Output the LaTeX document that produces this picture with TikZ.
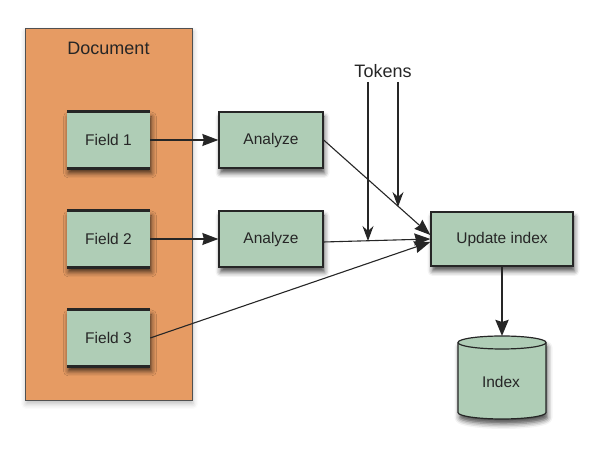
\documentclass[tikz,border=0pt]{standalone}
\usepackage{fontspec}
\setmainfont{Liberation Sans}
\usetikzlibrary{arrows.meta,shadows.blur,calc}
\definecolor{docorange}{HTML}{E69B63}
\definecolor{boxgreen}{HTML}{AFCDB6}
\definecolor{edgec}{HTML}{262626}
\tikzset{
 lbl/.style={font=\fontsize{15.5}{18}\selectfont, text=edgec},
 bigl/.style={font=\fontsize{18}{21}\selectfont, text=edgec},
 shad/.style={blur shadow={shadow xshift=1.5pt, shadow yshift=-5pt, shadow blur radius=5pt, shadow opacity=70}},
 fieldbox/.style={fill=boxgreen, minimum width=83pt, minimum height=56pt, inner sep=0pt, lbl, shad},
 procbox/.style={fill=boxgreen, draw=edgec, line width=1.3pt, minimum width=104pt, minimum height=56pt, inner sep=0pt, lbl, shad},
 conn/.style={draw=edgec, line width=1.1pt, -{Stealth[length=16pt,width=12pt,inset=1.5pt]}},
 tokconn/.style={draw=edgec, line width=1.1pt, -{Stealth[length=15pt,width=11pt,inset=5pt]}},
 thickconn/.style={draw=edgec, line width=2.4pt, -{Stealth[length=16pt,width=13pt,inset=2pt]}},
 fieldedge/.style={draw=edgec, line width=2.8pt},
}
\begin{document}
\begin{tikzpicture}[x=1pt,y=1pt]
\useasboundingbox (0,0) rectangle (590,468);
% Document container
\node[fill=docorange, draw=edgec!80, line width=0.8pt, minimum width=167pt, minimum height=372pt, inner sep=0pt,
      blur shadow={shadow xshift=1pt, shadow yshift=-4pt, shadow blur radius=5pt, shadow opacity=25}] (doc) at (108.5,254) {};
\node[bigl] (doclbl) at (108.5,420) {Document};
% Fields
\foreach \n/\y in {1/328,2/229,3/130}{
  \node[fieldbox] (f\n) at (108.5,\y) {Field \n};
  \draw[fieldedge] (f\n.north west) -- (f\n.north east);
  \draw[fieldedge] (f\n.south west) -- (f\n.south east);
}
% Analyze
\node[procbox] (a1) at (271,328) {Analyze};
\node[procbox] (a2) at (271,229) {Analyze};
% Update index
\node[procbox, minimum width=142pt, minimum height=54pt] (upd) at (502,229) {Update index};
% Index cylinder
\coordinate (cyltop) at (502,132);
\fill[boxgreen, shad] (458,125.5) -- (458,55.5) arc (180:360:44 and 6.5) -- (546,125.5) arc (0:180:44 and 6.5) -- cycle;
\draw[edgec, line width=1.2pt] (458,125.5) -- (458,55.5) arc (180:360:44 and 6.5) -- (546,125.5) arc (0:180:44 and 6.5) -- cycle;
\draw[edgec, line width=1.2pt] (458,125.5) arc (180:360:44 and 6.5);
\node[lbl] (idx) at (501,86) {Index};
% Tokens
\node[bigl] (tok) at (383,397) {Tokens};
\coordinate (t1s) at (368,386);
\coordinate (t1e) at (368,227);
\coordinate (t2s) at (398,386);
\coordinate (t2e) at (398,261);
% connectors
\draw[conn] (f1.east) -- (a1.west);
\draw[conn] (f2.east) -- (a2.west);
\draw[conn] (a1.east) -- ($(upd.west)+(0,4)$);
\draw[conn] ($(a2.east)+(0,-3)$) -- ($(upd.west)+(0,0)$);
\draw[conn] (f3.east) -- ($(upd.west)+(0,-3)$);
\draw[tokconn] (t1s) -- (t1e);
\draw[tokconn] (t2s) -- (t2e);
\draw[thickconn] (upd.south) -- (cyltop);
\end{tikzpicture}
\end{document}
